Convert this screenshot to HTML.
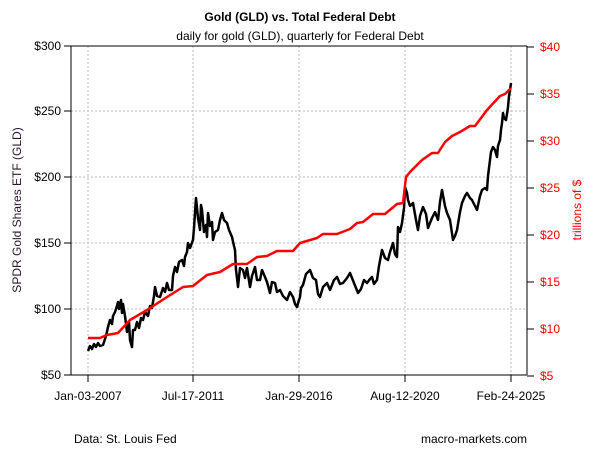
<!DOCTYPE html><html><head><style>body{margin:0;background:#fff}svg{display:block;font-family:"Liberation Sans",Arial,sans-serif}</style></head><body>
<svg width="600" height="450" viewBox="0 0 600 450">
<text x="300" y="21" font-size="12" font-weight="bold" text-anchor="middle">Gold (GLD) vs. Total Federal Debt</text>
<text x="300" y="40" font-size="12" text-anchor="middle">daily for gold (GLD), quarterly for Federal Debt</text>
<g stroke="#bbb" stroke-dasharray="2,2" stroke-width="1">
<line x1="71" x2="527" y1="111" y2="111"/><line x1="71" x2="527" y1="177" y2="177"/><line x1="71" x2="527" y1="243" y2="243"/><line x1="71" x2="527" y1="309" y2="309"/>
<line x1="88" x2="88" y1="46" y2="375"/><line x1="193" x2="193" y1="46" y2="375"/><line x1="299" x2="299" y1="46" y2="375"/><line x1="405" x2="405" y1="46" y2="375"/><line x1="511" x2="511" y1="46" y2="375"/>
</g>
<g stroke="#000" stroke-width="1" fill="none">
<line x1="71" y1="46" x2="527" y2="46"/><line x1="71" y1="375" x2="527" y2="375"/>
<line x1="71" y1="46" x2="71" y2="375"/><line x1="527" y1="46" x2="527" y2="375"/>
<line x1="64" x2="71" y1="46" y2="46"/><line x1="64" x2="71" y1="111" y2="111"/><line x1="64" x2="71" y1="177" y2="177"/><line x1="64" x2="71" y1="243" y2="243"/><line x1="64" x2="71" y1="309" y2="309"/><line x1="64" x2="71" y1="375" y2="375"/>
<line x1="88" x2="88" y1="375" y2="382"/><line x1="193" x2="193" y1="375" y2="382"/><line x1="299" x2="299" y1="375" y2="382"/><line x1="405" x2="405" y1="375" y2="382"/><line x1="511" x2="511" y1="375" y2="382"/>
<line x1="527" x2="534" y1="47" y2="47"/><line x1="527" x2="534" y1="94" y2="94"/><line x1="527" x2="534" y1="141" y2="141"/><line x1="527" x2="534" y1="188" y2="188"/><line x1="527" x2="534" y1="235" y2="235"/><line x1="527" x2="534" y1="282" y2="282"/><line x1="527" x2="534" y1="329" y2="329"/><line x1="527" x2="534" y1="376" y2="376"/>
</g>
<g font-size="12" text-anchor="end" fill="#000">
<text x="61" y="50">$300</text><text x="61" y="115">$250</text><text x="61" y="181">$200</text><text x="61" y="247">$150</text><text x="61" y="313">$100</text><text x="61" y="379">$50</text>
</g>
<g font-size="12" fill="#f00">
<text x="540" y="51">$40</text><text x="540" y="98">$35</text><text x="540" y="145">$30</text><text x="540" y="192">$25</text><text x="540" y="239">$20</text><text x="540" y="286">$15</text><text x="540" y="333">$10</text><text x="540" y="380">$5</text>
</g>
<g font-size="12" text-anchor="middle">
<text x="88" y="400">Jan-03-2007</text><text x="193" y="400">Jul-17-2011</text><text x="299" y="400">Jan-29-2016</text><text x="405" y="400">Aug-12-2020</text><text x="511" y="400">Feb-24-2025</text>
</g>
<text transform="translate(21,210) rotate(-90)" font-size="12" text-anchor="middle" fill="#2a1530">SPDR Gold Shares ETF (GLD)</text>
<text transform="translate(581,210) rotate(-90)" font-size="12" text-anchor="middle" fill="#f00">trillions of $</text>
<text x="74" y="443" font-size="12">Data: St. Louis Fed</text>
<text x="527" y="443" font-size="12" text-anchor="end">macro-markets.com</text>
<polyline fill="none" stroke="#000" stroke-width="2.5" stroke-linejoin="round" points="88,351 90,346 92,349 94,344 96,347 98,343 100,346 103,345 106,336 108,327 110,320 112,324 113,316 115,312 117,306 118,302 119,309 121,300 122,313 123,304 125,316 127,332 129,322 130,340 132,347 133,330 135,330 137,322 139,328 141,318 143,320 145,312 148,316 150,306 152,308 154,296 155,287 157,296 160,297 163,288 165,292 167,283 169,290 172,290 173,276 175,267 177,272 179,262 182,260 184,266 185,257 187,252 188,243 190,248 193,240 194,228 196,198 198,218 200,230 201,205 202,210 204,232 206,225 207,237 208,213 210,226 212,222 213,240 215,232 218,230 220,220 222,213 224,220 227,223 229,230 232,237 234,246 235,250 236,270 237,278 238,287 240,268 243,270 245,278 247,268 250,287 252,276 255,267 257,280 260,280 262,270 265,277 267,282 270,293 272,282 275,283 277,292 280,290 283,296 287,300 290,292 293,297 295,304 297,307 299,300 300,297 301,288 303,285 306,274 310,270 313,278 316,280 318,294 320,297 323,287 327,283 330,290 334,280 337,277 340,284 343,283 347,278 350,273 354,283 358,293 361,289 364,280 367,283 370,279 372,277 374,284 377,280 379,266 382,250 385,258 388,260 390,252 393,243 395,254 397,257 398,227 400,232 402,223 404,208 405,187 407,193 408,200 410,206 413,203 416,220 418,230 420,216 423,207 426,214 428,228 430,223 432,218 435,212 438,220 440,202 442,190 445,206 447,213 450,220 453,240 455,236 457,230 460,212 462,203 465,196 467,193 470,198 472,200 475,206 477,210 480,196 482,190 485,188 487,190 488,176 490,160 491,152 493,147 495,150 497,157 498,146 500,140 501,130 502,123 503,113 504,118 506,120 507,114 508,107 509,96 510,90 511,83"/>
<polyline fill="none" stroke="#f00" stroke-width="2.5" stroke-linejoin="round" points="88,338 100,338 107,335 118,333 130,320 147,310 167,297 183,287 193,286 207,275 220,272 233,264 247,264 257,257 267,256 277,251 293,251 300,243 317,238 323,234 337,234 350,229 357,223 363,222 373,214 385,214 397,204 403,203 406,177 410,172 422,160 432,153 438,153 445,142 452,136 460,132 470,126 475,126 487,110 500,96 505,94 511,88"/>
</svg>
</body></html>
